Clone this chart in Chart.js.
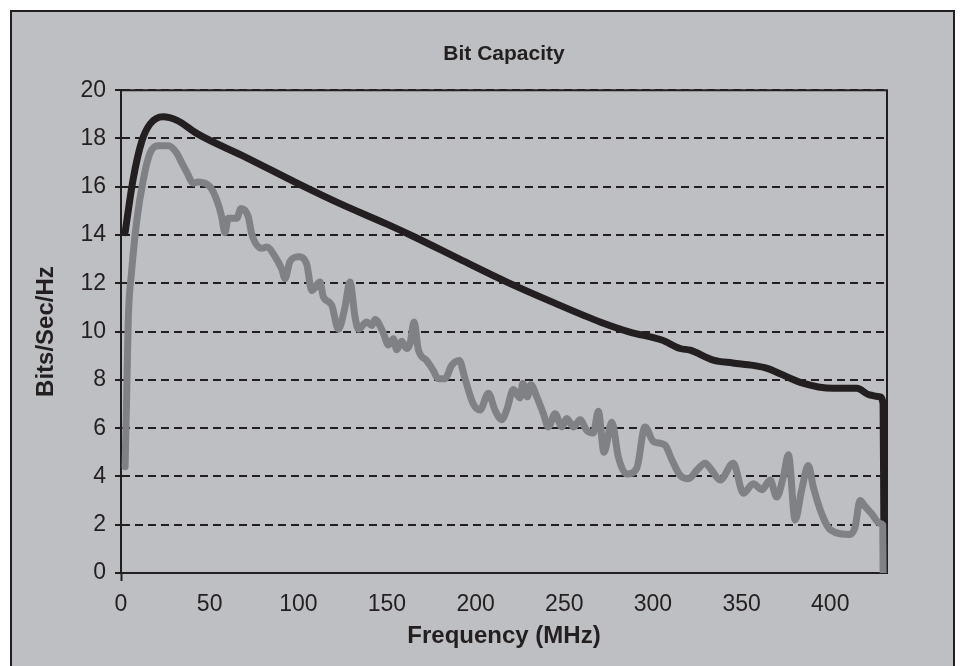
<!DOCTYPE html>
<html>
<head>
<meta charset="utf-8">
<script src="https://cdn.jsdelivr.net/npm/chart.js@4.4.1/dist/chart.umd.min.js"></script>
<style>
  html, body { margin: 0; padding: 0; background: #ffffff; }
  #frame {
    position: absolute; left: 10px; top: 10px;
    width: 941px; height: 656px;
    border: 2px solid #231f20; border-bottom: none;
    background: #bebfc2;
  }
  #wrap { position: absolute; left: 0; top: 0; width: 941px; height: 654px; }
</style>
</head>
<body>
<div id="frame"><div id="wrap"><canvas id="chart"></canvas></div></div>
<script>
// chart data
const blackFreq = [2.3, 6.8, 11.8, 16.4, 23.7, 31.6, 42.9, 71, 99.3, 123.5, 150, 164.7, 191, 217.7, 244, 270.2, 287, 305, 315.3, 321, 334, 345, 356.5, 364.4, 383, 401.6, 410, 415, 422.4, 428, 429.8, 430.2];
const blackBits = [14.1, 16.3, 17.9, 18.6, 18.9, 18.75, 18.2, 17.2, 16.15, 15.3, 14.45, 13.95, 13.0, 12.05, 11.2, 10.4, 9.98, 9.65, 9.3, 9.23, 8.82, 8.7, 8.6, 8.48, 7.9, 7.65, 7.65, 7.65, 7.37, 7.3, 7.0, 2.1];

const grayFreq = [2.3, 3.1, 4.1, 6.0, 8.9, 12.6, 16.4, 21.0, 26.7, 31.4, 34.2, 37.1, 40.8, 43.6, 50.2, 54.0, 56.8, 58.6, 60.5, 65.3,
  67.7, 71.8, 73.7, 79.4, 82.2, 86.9, 90.6, 92.5, 95.3, 100.0, 104.7, 107.6, 112.2, 114.1, 118.8, 122.6, 126.3, 129.1, 132.0, 133.8,
  138.6, 141.4, 143.3, 147.9, 150.8, 153.6, 155.5, 158.3, 161.1, 163.0, 165.3, 167.7, 172.4, 176.1, 178.8, 182.7, 186.5, 190.8, 194.0, 198.7,
  202.5, 207.2, 210.9, 214.7, 217.5, 221.3, 225.0, 226.6, 229.2, 231.1, 234.5, 238.2, 241.0, 244.8, 248.6, 251.4, 255.1, 258.9, 262.7, 266.4,
  269.2, 272.4, 276.8, 280.5, 285.2, 290.9, 295.5, 300.2, 306.8, 310.6, 315.3, 320.0, 324.7, 329.4, 333.2, 337.9, 345.3, 351.0, 356.6, 361.4,
  366.1, 369.8, 373.6, 376.4, 380.2, 383.9, 387.6, 390.5, 395.2, 399.9, 411.2, 414.0, 416.8, 419.7, 423.4, 428.1, 429.6, 429.8];
const grayBits = [4.4, 7.0, 10.5, 12.5, 14.6, 16.3, 17.4, 17.7, 17.7, 17.4, 17.0, 16.6, 16.15, 16.2, 16.0, 15.45, 14.75, 14.1, 14.7, 14.7,
  15.1, 14.75, 14.05, 13.45, 13.5, 13.1, 12.6, 12.2, 12.9, 13.1, 12.8, 11.7, 12.05, 11.45, 11.1, 10.1, 11.0, 12.05, 10.6, 10.1,
  10.4, 10.25, 10.5, 9.95, 9.45, 9.7, 9.25, 9.6, 9.3, 9.5, 10.4, 9.25, 8.8, 8.4, 8.05, 8.05, 8.6, 8.8, 8.05, 7.0,
  6.75, 7.45, 6.75, 6.35, 6.75, 7.6, 7.25, 7.85, 7.3, 7.8, 7.3, 6.6, 6.05, 6.6, 6.05, 6.4, 6.05, 6.35, 5.9, 5.8,
  6.7, 5.0, 6.25, 4.8, 4.1, 4.35, 6.05, 5.45, 5.3, 4.7, 4.05, 3.9, 4.25, 4.55, 4.25, 3.85, 4.55, 3.3, 3.7, 3.45,
  3.85, 3.15, 4.0, 4.9, 2.2, 3.45, 4.45, 3.55, 2.45, 1.8, 1.6, 1.9, 3.0, 2.75, 2.45, 2.05, 2.0, 0.0];

const xMax = 432;
const yTicks = { min: 0, max: 20, step: 2 };

const ink = '#231f20';
const font = '"Liberation Sans", Arial, sans-serif';

function toPoints(xs, ys) {
    return xs.map((x, i) => ({ x: x, y: ys[i] }));
}

// top and right edges of the plot box
const plotFrame = {
    id: 'plotFrame',
    beforeDatasetsDraw(chart) {
        const { ctx, chartArea: a } = chart;
        ctx.save();
        ctx.strokeStyle = ink;
        ctx.lineWidth = 2;
        ctx.beginPath();
        ctx.moveTo(a.left, a.top);
        ctx.lineTo(a.right, a.top);
        ctx.lineTo(a.right, a.bottom);
        ctx.stroke();
        ctx.restore();
    }
};

new Chart(document.getElementById('chart'), {
    type: 'line',
    data: {
        datasets: [{
            label: 'Measured',
            data: toPoints(grayFreq, grayBits),
            borderColor: '#808185',
            borderWidth: 7,
            pointRadius: 0,
            cubicInterpolationMode: 'monotone',
            borderJoinStyle: 'round',
            borderCapStyle: 'round'
        }, {
            label: 'Theoretical',
            data: toPoints(blackFreq, blackBits),
            borderColor: ink,
            borderWidth: 7,
            pointRadius: 0,
            cubicInterpolationMode: 'monotone',
            borderJoinStyle: 'round',
            borderCapStyle: 'round'
        }]
    },
    options: {
        responsive: true,
        maintainAspectRatio: false,
        animation: false,
        layout: { padding: { left: 0, right: 66, top: 0, bottom: 0 } },
        plugins: {
            legend: { display: false },
            tooltip: { enabled: false },
            title: {
                display: true,
                text: 'Bit Capacity',
                fullSize: false,
                color: ink,
                font: { family: font, size: 21, weight: 'bold' },
                padding: { top: 30, bottom: 23 }
            }
        },
        scales: {
            x: {
                type: 'linear',
                min: 0,
                max: xMax,
                afterFit: (s) => { s.height = 93; },
                border: { color: ink, width: 2 },
                grid: {
                    drawOnChartArea: false,
                    drawTicks: true,
                    tickLength: 8,
                    tickWidth: 2,
                    tickColor: (c) => (c.tick && c.tick.value === 0 ? ink : 'rgba(0,0,0,0)')
                },
                ticks: {
                    stepSize: 50,
                    includeBounds: false,
                    maxRotation: 0,
                    padding: 10,
                    color: ink,
                    font: { family: font, size: 23 }
                },
                title: {
                    display: true,
                    text: 'Frequency (MHz)',
                    color: ink,
                    font: { family: font, size: 24, weight: 'bold' },
                    padding: { top: 0, bottom: 15 }
                }
            },
            y: {
                min: yTicks.min,
                max: yTicks.max,
                afterFit: (s) => { s.width = 109; },
                border: { color: ink, width: 2, dash: [8, 5] },
                grid: {
                    color: ink,
                    lineWidth: 2,
                    tickBorderDash: [],
                    drawTicks: true,
                    tickLength: 6,
                    tickWidth: 2,
                    tickColor: ink
                },
                ticks: {
                    stepSize: yTicks.step,
                    padding: 9,
                    color: ink,
                    font: { family: font, size: 23 }
                },
                title: {
                    display: true,
                    text: 'Bits/Sec/Hz',
                    color: ink,
                    font: { family: font, size: 24, weight: 'bold' },
                    padding: { top: 20, bottom: 0 }
                }
            }
        }
    },
    plugins: [plotFrame]
});
</script>
</body>
</html>
